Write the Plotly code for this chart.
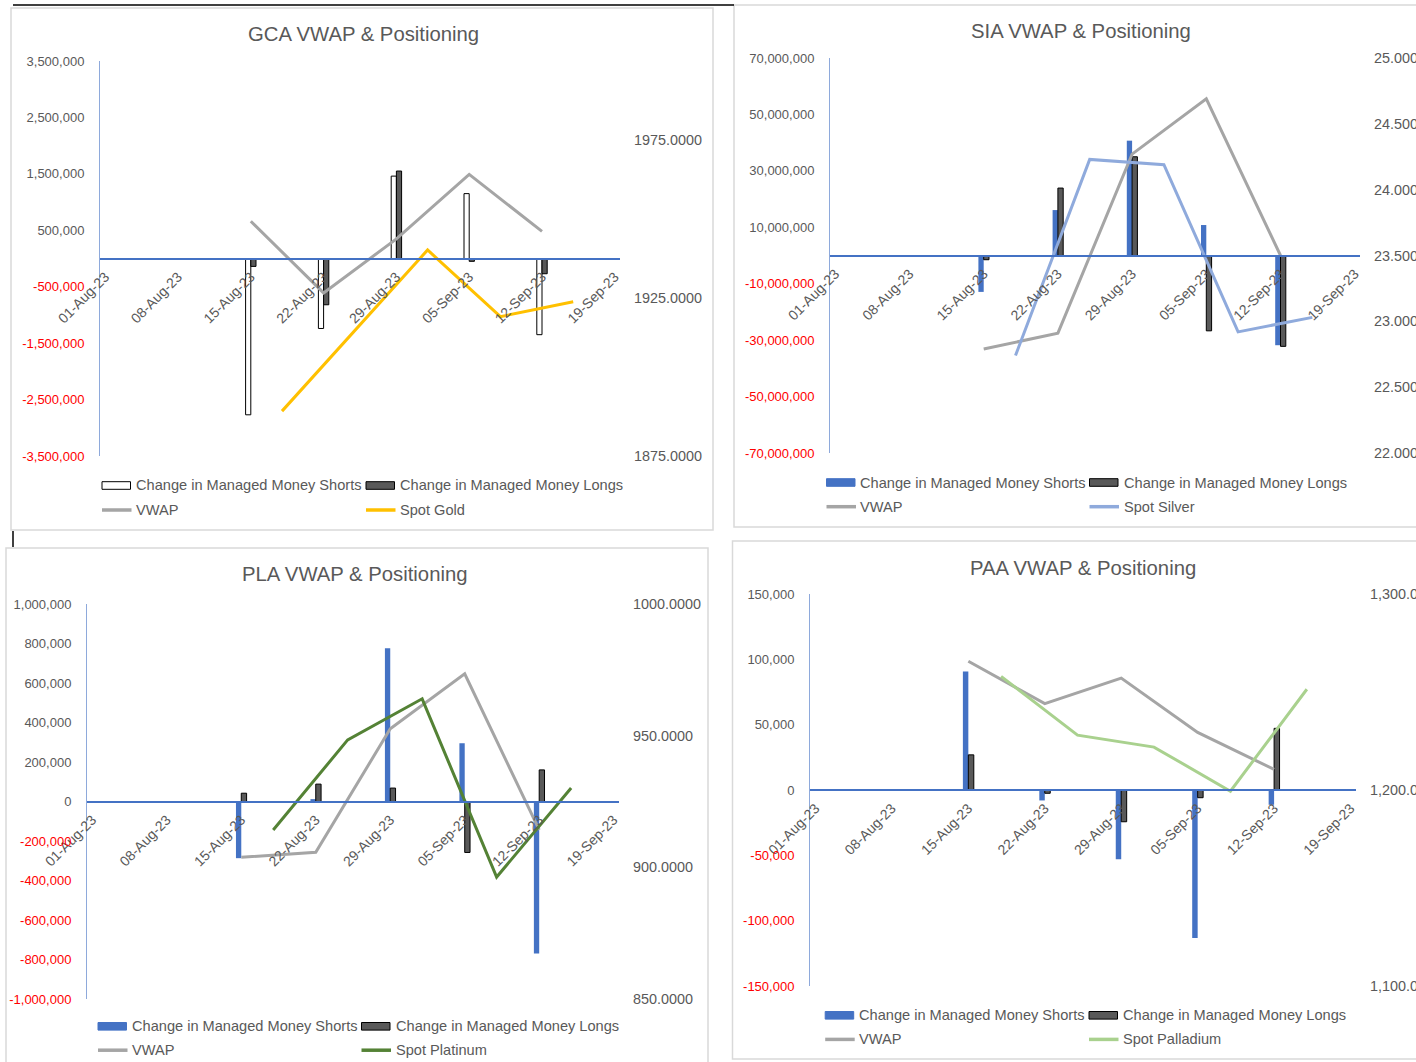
import plotly.graph_objects as go

W, H = 1416, 1062
FONT = "Liberation Sans, Arial, sans-serif"
TEXT = "#595959"

# ---- data -------------------------------------------------------------
report_dates = ["2023-08-15", "2023-08-22", "2023-08-29", "2023-09-05", "2023-09-12"]
spot_dates = ["2023-08-18", "2023-08-25", "2023-09-01", "2023-09-08", "2023-09-15"]
week_ticks = ["2023-08-01", "2023-08-08", "2023-08-15", "2023-08-22",
              "2023-08-29", "2023-09-05", "2023-09-12", "2023-09-19"]
week_labels = ["01-Aug-23", "08-Aug-23", "15-Aug-23", "22-Aug-23",
               "29-Aug-23", "05-Sep-23", "12-Sep-23", "19-Sep-23"]

gca_shorts = [-2770000, -1240000, 1460000, 1150000, -1350000]
gca_longs = [-140000, -820000, 1550000, -50000, -270000]
gca_vwap = [1949.3, 1926.6, 1943.7, 1964.1, 1946.1]
gca_spot = [1889.2, None, 1940.2, 1919.1, 1923.8]

sia_shorts = [-12900000, 16100000, 40700000, 10800000, -31800000]
sia_longs = [-1500000, 23900000, 35000000, -26700000, -32200000]
sia_vwap = [22.79, 22.91, 24.27, 24.69, 23.50]
sia_spot = [22.74, 24.23, 24.19, 22.92, 23.03]

pla_shorts = [-287000, 12000, 776000, 295000, -770000]
pla_longs = [42000, 88000, 68000, -258000, 160000]
pla_vwap = [903.8, 905.7, 952.6, 973.5, 914.2]
pla_spot = [914.2, 948.4, 964.0, 896.3, 930.1]

paa_shorts = [90700, -8000, -53000, -113300, -11300]
paa_longs = [26900, -2500, -24300, -5900, 47200]
paa_vwap = [1265.7, 1244.1, 1257.1, 1229.4, 1210.5]
paa_spot = [1258.0, 1228.0, 1221.9, 1199.4, 1251.4]

# ---- panel setup (pixel geometry and styling) --------------------------
panels = [
    dict(title="GCA VWAP & Positioning", spot_name="Spot Gold",
         shorts=gca_shorts, longs=gca_longs, vwap=gca_vwap, spot=gca_spot,
         box=(11, 8, 713, 530), plot=(100, 61, 620, 456), title_xy=(363, 34),
         lrange=(-3500000, 3500000), lstep=1000000,
         rrange=(1875, 2000), rticks=[1875, 1925, 1975], rfmt="{:.4f}",
         shorts_fill="#FFFFFF", shorts_edge="#000000", shorts_edge_w=1,
         spot_color="#FFC000", leg=(102, 366, 485.5, 510)),
    dict(title="SIA VWAP & Positioning", spot_name="Spot Silver",
         shorts=sia_shorts, longs=sia_longs, vwap=sia_vwap, spot=sia_spot,
         box=(734, 5, 1430, 527), plot=(830, 58, 1360, 453), title_xy=(1081, 31),
         lrange=(-70000000, 70000000), lstep=20000000,
         rrange=(22, 25), rticks=[22, 22.5, 23, 23.5, 24, 24.5, 25], rfmt="{:.3f}",
         shorts_fill="#4472C4", shorts_edge="#4472C4", shorts_edge_w=0,
         spot_color="#8FAADC", leg=(826.5, 1089.5, 482.5, 506.7)),
    dict(title="PLA VWAP & Positioning", spot_name="Spot Platinum",
         shorts=pla_shorts, longs=pla_longs, vwap=pla_vwap, spot=pla_spot,
         box=(6, 548, 708, 1075), plot=(87, 604, 619, 999), title_xy=(355, 574),
         lrange=(-1000000, 1000000), lstep=200000,
         rrange=(850, 1000), rticks=[850, 900, 950, 1000], rfmt="{:.4f}",
         shorts_fill="#4472C4", shorts_edge="#4472C4", shorts_edge_w=0,
         spot_color="#548235", leg=(98, 361.5, 1026.3, 1050.2)),
    dict(title="PAA VWAP & Positioning", spot_name="Spot Palladium",
         shorts=paa_shorts, longs=paa_longs, vwap=paa_vwap, spot=paa_spot,
         box=(732.5, 541, 1430, 1059), plot=(810, 594, 1356, 986), title_xy=(1083, 568),
         lrange=(-150000, 150000), lstep=50000,
         rrange=(1100, 1300), rticks=[1100, 1200, 1300], rfmt="{:,.2f}",
         shorts_fill="#4472C4", shorts_edge="#4472C4", shorts_edge_w=0,
         spot_color="#A9D18E", leg=(825.2, 1089, 1015.3, 1039.4)),
]

DAY_MS = 86400000
X_RANGE = ["2023-07-31 12:00", "2023-09-19 12:00"]


def fx(px):
    return px / W


def fy(py):
    return 1 - py / H


def left_tick_text(v):
    s = "{:,.0f}".format(v)
    if v < 0:
        return '<span style="color:#FF0000">' + s + "</span>"
    return s


fig = go.Figure()
shapes = []
annotations = []
layout = {}

for i, p in enumerate(panels):
    xn = i + 1
    yl = 2 * i + 1
    yr = 2 * i + 2
    xname = "x" if xn == 1 else f"x{xn}"
    ylname = "y" if yl == 1 else f"y{yl}"
    yrname = f"y{yr}"
    xkey = "xaxis" if xn == 1 else f"xaxis{xn}"
    ylkey = "yaxis" if yl == 1 else f"yaxis{yl}"
    yrkey = f"yaxis{yr}"

    x0, y0, x1, y1 = p["plot"]
    lo, hi = p["lrange"]
    zero_py = y0 + (hi - 0) / (hi - lo) * (y1 - y0)

    # bars: shorts left of the date, longs right of it
    fig.add_trace(go.Bar(
        x=report_dates, y=p["shorts"], xaxis=xname, yaxis=ylname,
        width=DAY_MS * 0.5, offset=-DAY_MS * 0.5,
        marker=dict(color=p["shorts_fill"],
                    line=dict(color=p["shorts_edge"], width=p["shorts_edge_w"])),
        showlegend=False, name="Change in Managed Money Shorts"))
    fig.add_trace(go.Bar(
        x=report_dates, y=p["longs"], xaxis=xname, yaxis=ylname,
        width=DAY_MS * 0.5, offset=0,
        marker=dict(color="#595959", line=dict(color="#000000", width=1)),
        showlegend=False, name="Change in Managed Money Longs"))
    # price lines on the secondary axis
    fig.add_trace(go.Scatter(
        x=report_dates, y=p["vwap"], xaxis=xname, yaxis=yrname, mode="lines",
        line=dict(color="#A5A5A5", width=3), showlegend=False, name="VWAP"))
    fig.add_trace(go.Scatter(
        x=spot_dates, y=p["spot"], xaxis=xname, yaxis=yrname, mode="lines",
        connectgaps=True, line=dict(color=p["spot_color"], width=3),
        showlegend=False, name=p["spot_name"]))

    ltv = []
    v = lo
    while v <= hi + 1:
        ltv.append(v)
        v += p["lstep"]

    layout[xkey] = dict(
        domain=[fx(x0), fx(x1)], anchor="free", position=fy(zero_py),
        type="date", range=X_RANGE, tickmode="array", automargin=False,
        tickvals=week_ticks, ticktext=week_labels, tickangle=-45,
        showline=True, linecolor="#4472C4", linewidth=1.5,
        showgrid=False, zeroline=False, ticks="", ticklabelstandoff=4,
        tickfont=dict(family=FONT, size=14, color=TEXT), fixedrange=True)
    layout[ylkey] = dict(
        domain=[fy(y1), fy(y0)], anchor=xname, range=[lo, hi], automargin=False,
        tickmode="array", tickvals=ltv, ticktext=[left_tick_text(t) for t in ltv],
        showline=True, linecolor="#8EA9DB", linewidth=1,
        showgrid=False, zeroline=False, ticks="", ticklabelstandoff=12,
        tickfont=dict(family=FONT, size=13, color=TEXT))
    layout[yrkey] = dict(
        overlaying=ylname, side="right", anchor=xname, automargin=False,
        range=list(p["rrange"]), tickmode="array", tickvals=p["rticks"],
        ticktext=[p["rfmt"].format(t) for t in p["rticks"]],
        showline=False, showgrid=False, zeroline=False, ticks="",
        ticklabelstandoff=13,
        tickfont=dict(family=FONT, size=14.4, color=TEXT))

    # chart frame
    bx0, by0, bx1, by1 = p["box"]
    shapes.append(dict(type="rect", xref="paper", yref="paper",
                       x0=fx(bx0), x1=fx(bx1), y0=fy(by1), y1=fy(by0),
                       line=dict(color="#D9D9D9", width=1.5), layer="below"))

    # title
    tx, ty = p["title_xy"]
    annotations.append(dict(text=p["title"], x=fx(tx), y=fy(ty), xref="paper",
                            yref="paper", showarrow=False, xanchor="center",
                            yanchor="middle",
                            font=dict(family=FONT, size=20.3, color=TEXT)))

    # legend drawn as swatches + labels
    c1, c2, r1, r2 = p["leg"]
    sw = 28.5
    rh = 3.8
    shapes.append(dict(type="rect", xref="paper", yref="paper",
                       x0=fx(c1), x1=fx(c1 + sw), y0=fy(r1 + rh), y1=fy(r1 - rh),
                       fillcolor=p["shorts_fill"],
                       line=dict(color="#000000" if p["shorts_edge_w"] else p["shorts_fill"],
                                 width=1)))
    shapes.append(dict(type="rect", xref="paper", yref="paper",
                       x0=fx(c2), x1=fx(c2 + sw), y0=fy(r1 + rh), y1=fy(r1 - rh),
                       fillcolor="#595959", line=dict(color="#000000", width=1)))
    shapes.append(dict(type="line", xref="paper", yref="paper",
                       x0=fx(c1), x1=fx(c1 + sw + 1), y0=fy(r2), y1=fy(r2),
                       line=dict(color="#A5A5A5", width=3.5)))
    shapes.append(dict(type="line", xref="paper", yref="paper",
                       x0=fx(c2), x1=fx(c2 + sw + 1), y0=fy(r2), y1=fy(r2),
                       line=dict(color=p["spot_color"], width=3.5)))
    for (lx, ly, lt) in [(c1, r1, "Change in Managed Money Shorts"),
                         (c2, r1, "Change in Managed Money Longs"),
                         (c1, r2, "VWAP"), (c2, r2, p["spot_name"])]:
        annotations.append(dict(text=lt, x=fx(lx + 32), y=fy(ly), xref="paper",
                                yref="paper", showarrow=False, xanchor="left",
                                yanchor="middle",
                                font=dict(family=FONT, size=14.6, color=TEXT)))

# sheet cell borders around the charts
shapes.append(dict(type="line", xref="paper", yref="paper",
                   x0=fx(13), x1=fx(734), y0=fy(5), y1=fy(5),
                   line=dict(color="#000000", width=1.5)))
shapes.append(dict(type="line", xref="paper", yref="paper",
                   x0=fx(13), x1=fx(13), y0=fy(531), y1=fy(547),
                   line=dict(color="#000000", width=1.5)))

fig.update_layout(
    width=W, height=H, margin=dict(l=0, r=0, t=0, b=0, autoexpand=False),
    paper_bgcolor="#FFFFFF", plot_bgcolor="rgba(0,0,0,0)",
    barmode="overlay", showlegend=False,
    shapes=shapes, annotations=annotations,
    font=dict(family=FONT, color=TEXT), **layout)

fig.write_html("out.html")
